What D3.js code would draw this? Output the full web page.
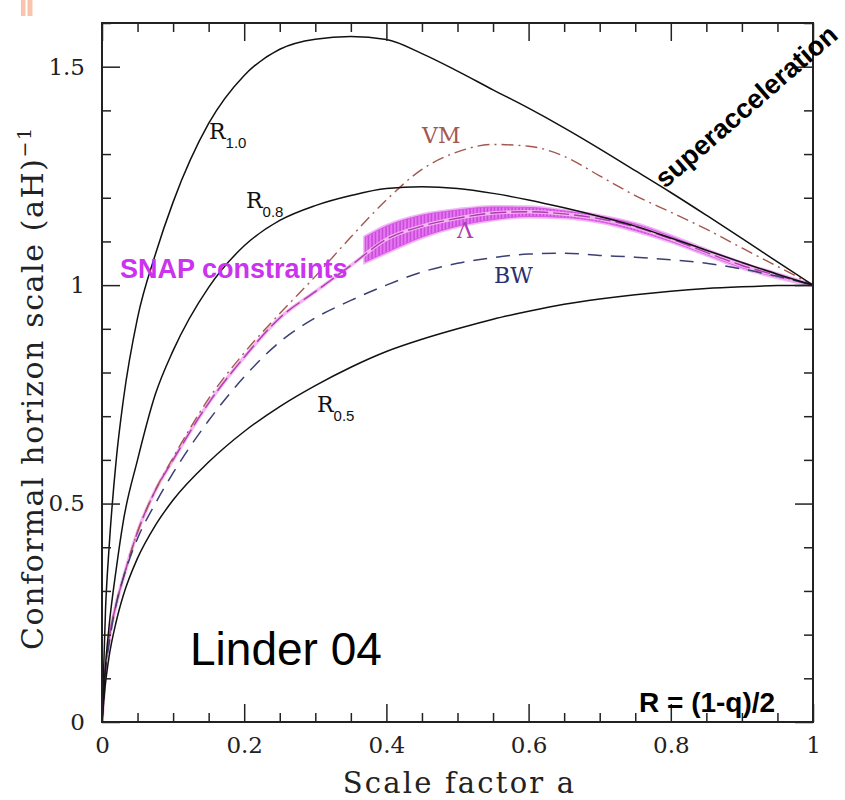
<!DOCTYPE html>
<html>
<head>
<meta charset="utf-8">
<script src="https://cdn.jsdelivr.net/npm/d3@7"></script>
<style>
  body { margin: 0; background: #fff; }
  svg { display: block; }
</style>
</head>
<body>
<script>
const width = 845;
const height = 800;

// scale factor grid shared by all curves
const aGrid = [0, 0.005, 0.01, 0.02, 0.03, 0.05, 0.075, 0.1, 0.15, 0.2, 0.25, 0.3, 0.35,
  0.4, 0.45, 0.5, 0.55, 0.6, 0.65, 0.7, 0.75, 0.8, 0.85, 0.9, 0.95, 1.0];

const r10 = [0, 0.26, 0.40, 0.60, 0.737, 0.925, 1.07, 1.19, 1.37, 1.48, 1.54, 1.563, 1.569,
  1.562, 1.53, 1.49, 1.447, 1.405, 1.36, 1.312, 1.262, 1.212, 1.16, 1.107, 1.053, 1.0];
const r08 = [0, 0.13, 0.22, 0.35, 0.46, 0.6, 0.75, 0.85, 0.995, 1.09, 1.148, 1.182, 1.205,
  1.221, 1.225, 1.221, 1.21, 1.195, 1.177, 1.157, 1.135, 1.108, 1.08, 1.052, 1.025, 1.0];
const r05 = [0, 0.09, 0.15, 0.23, 0.29, 0.375, 0.45, 0.508, 0.595, 0.665, 0.722, 0.77, 0.812,
  0.848, 0.876, 0.9, 0.922, 0.94, 0.956, 0.968, 0.978, 0.986, 0.992, 0.996, 0.999, 1.0];
const bw = [0, 0.12, 0.18, 0.27, 0.33, 0.42, 0.5, 0.57, 0.69, 0.79, 0.87, 0.925, 0.965,
  1.0, 1.03, 1.05, 1.063, 1.071, 1.073, 1.068, 1.064, 1.058, 1.05, 1.037, 1.02, 1.0];
const vm = [0, 0.12, 0.19, 0.27, 0.33, 0.435, 0.53, 0.605, 0.74, 0.845, 0.935, 1.02, 1.11,
  1.195, 1.265, 1.305, 1.322, 1.318, 1.295, 1.25, 1.205, 1.167, 1.128, 1.085, 1.043, 1.0];
const lam = [0, 0.12, 0.19, 0.27, 0.33, 0.435, 0.53, 0.6, 0.73, 0.835, 0.925, 0.985, 1.045,
  1.105, 1.135, 1.153, 1.165, 1.168, 1.163, 1.152, 1.133, 1.106, 1.075, 1.045, 1.022, 1.0];

// SNAP constraint band on the Lambda model
const bandA = [0.37, 0.40, 0.45, 0.50, 0.55, 0.60, 0.65, 0.70, 0.75, 0.80, 0.85, 0.90, 0.95, 1.0];
const bandHi = [1.11, 1.135, 1.16, 1.172, 1.179, 1.178, 1.17, 1.158, 1.14, 1.112, 1.08, 1.05, 1.025, 1.0];
const bandLo = [1.053, 1.075, 1.11, 1.135, 1.15, 1.157, 1.155, 1.145, 1.125, 1.1, 1.07, 1.04, 1.018, 1.0];

const xMajor = [0, 0.2, 0.4, 0.6, 0.8, 1];
const yMajor = [0, 0.5, 1, 1.5];

const pLeft = 102, pRight = 813, pTop = 23, pBottom = 722;

const x = d3.scaleLinear().domain([0, 1]).range([pLeft, pRight]);
const y = d3.scaleLinear().domain([0, 1.6]).range([pBottom, pTop]);

const svg = d3.select("body").append("svg")
  .attr("width", width)
  .attr("height", height);

// little salmon mark at top left
svg.append("rect").attr("x", 21).attr("y", 0).attr("width", 4.5).attr("height", 16).attr("fill", "#f9c3ae");
svg.append("rect").attr("x", 27.5).attr("y", 0).attr("width", 5).attr("height", 16).attr("fill", "#f9c3ae");

const defs = svg.append("defs");
const pat = defs.append("pattern")
  .attr("id", "hatch")
  .attr("patternUnits", "userSpaceOnUse")
  .attr("width", 3.5).attr("height", 10);
pat.append("rect").attr("width", 3.5).attr("height", 10).attr("fill", "#e577f2");
pat.append("line").attr("x1", 1).attr("x2", 1).attr("y1", 0).attr("y2", 10)
  .attr("stroke", "#b82ac8").attr("stroke-width", 0.9);

defs.append("clipPath").attr("id", "plot")
  .append("rect").attr("x", pLeft).attr("y", pTop)
  .attr("width", pRight - pLeft).attr("height", pBottom - pTop);

const plot = svg.append("g").attr("clip-path", "url(#plot)");

// band
const band = bandA.map((a, i) => ({ a: a, lo: bandLo[i], hi: bandHi[i] }));
const area = d3.area()
  .x(d => x(d.a))
  .y0(d => y(d.lo))
  .y1(d => y(d.hi))
  .curve(d3.curveMonotoneX);
plot.append("path").attr("d", area(band))
  .attr("fill", "none").attr("stroke", "#f3b4f8").attr("stroke-width", 4);
plot.append("path").attr("d", area(band))
  .attr("fill", "url(#hatch)").attr("stroke", "#d050e0").attr("stroke-width", 0.8);

const line = d3.line()
  .x(d => x(d[0]))
  .y(d => y(d[1]))
  .curve(d3.curveMonotoneX);

function pts(vals) {
  return aGrid.map((a, i) => [a, vals[i]]);
}

// Lambda line with pink glow
plot.append("path").attr("d", line(pts(lam)))
  .attr("fill", "none").attr("stroke", "#f4b6f0").attr("stroke-width", 3.5);
plot.append("path").attr("d", line(pts(lam)))
  .attr("fill", "none").attr("stroke", "#b03cb4").attr("stroke-width", 1.4)
  .attr("stroke-dasharray", "16,5");

plot.append("path").attr("d", line(pts(vm)))
  .attr("fill", "none").attr("stroke", "#a4574f").attr("stroke-width", 1.4)
  .attr("stroke-dasharray", "12,5,2,5");

plot.append("path").attr("d", line(pts(bw)))
  .attr("fill", "none").attr("stroke", "#3b3f72").attr("stroke-width", 1.5)
  .attr("stroke-dasharray", "14,9");

[r10, r08, r05].forEach(vals => {
  plot.append("path").attr("d", line(pts(vals)))
    .attr("fill", "none").attr("stroke", "#111").attr("stroke-width", 1.5);
});

// axes, ticks pointing inward on all four sides
function styleAxis(g) {
  g.select(".domain").remove();
  g.selectAll(".tick line").attr("stroke", "#222").attr("stroke-width", 1.5);
  g.selectAll("text")
    .attr("font-family", "DejaVu Serif")
    .attr("font-size", 23)
    .attr("fill", "#222");
}

const xMinor = d3.range(0, 1.0001, 0.05).filter(v => Math.abs(v * 5 - Math.round(v * 5)) > 1e-6);
const yMinor = d3.range(0, 1.6001, 0.1).filter(v => Math.abs(v * 2 - Math.round(v * 2)) > 1e-6);

svg.append("g").attr("transform", `translate(0,${pBottom})`)
  .call(d3.axisBottom(x).tickValues(xMajor).tickSize(-18).tickPadding(15)
    .tickFormat(d => String(d)))
  .call(styleAxis);
svg.append("g").attr("transform", `translate(0,${pBottom})`)
  .call(d3.axisBottom(x).tickValues(xMinor).tickSize(-9).tickFormat(""))
  .call(styleAxis);
svg.append("g").attr("transform", `translate(0,${pTop})`)
  .call(d3.axisTop(x).tickValues(xMajor).tickSize(-18).tickFormat(""))
  .call(styleAxis);
svg.append("g").attr("transform", `translate(0,${pTop})`)
  .call(d3.axisTop(x).tickValues(xMinor).tickSize(-9).tickFormat(""))
  .call(styleAxis);

svg.append("g").attr("transform", `translate(${pLeft},0)`)
  .call(d3.axisLeft(y).tickValues(yMajor).tickSize(-18).tickPadding(17)
    .tickFormat(d => String(d)))
  .call(styleAxis);
svg.append("g").attr("transform", `translate(${pLeft},0)`)
  .call(d3.axisLeft(y).tickValues(yMinor).tickSize(-9).tickFormat(""))
  .call(styleAxis);
svg.append("g").attr("transform", `translate(${pRight},0)`)
  .call(d3.axisRight(y).tickValues(yMajor).tickSize(-18).tickFormat(""))
  .call(styleAxis);
svg.append("g").attr("transform", `translate(${pRight},0)`)
  .call(d3.axisRight(y).tickValues(yMinor).tickSize(-9).tickFormat(""))
  .call(styleAxis);

svg.append("rect")
  .attr("x", pLeft).attr("y", pTop)
  .attr("width", pRight - pLeft).attr("height", pBottom - pTop)
  .attr("fill", "none").attr("stroke", "#222").attr("stroke-width", 2);

// axis titles
svg.append("text")
  .attr("x", (pLeft + pRight) / 2 + 2).attr("y", 793)
  .attr("text-anchor", "middle")
  .attr("font-family", "DejaVu Serif").attr("font-size", 29)
  .attr("letter-spacing", 2.2)
  .attr("fill", "#222")
  .text("Scale factor a");

const yt = svg.append("text")
  .attr("transform", "translate(43,650) rotate(-90)")
  .attr("font-family", "DejaVu Serif").attr("font-size", 30)
  .attr("letter-spacing", 1.6)
  .attr("fill", "#222");
yt.append("tspan").text("Conformal horizon scale (aH)");
yt.append("tspan").attr("dy", -12).attr("font-size", 19).text("\u22121");

// curve labels
function subLabel(px, py, main, sub, color) {
  const t = svg.append("text")
    .attr("x", px).attr("y", py)
    .attr("font-family", "DejaVu Serif").attr("font-size", 22)
    .attr("fill", color);
  t.append("tspan").text(main);
  if (sub) t.append("tspan").attr("dy", 9).attr("font-size", 15)
    .attr("font-family", "Liberation Sans").text(sub);
}
subLabel(209, 139, "R", "1.0", "#111");
subLabel(246, 208, "R", "0.8", "#111");
subLabel(317, 412, "R", "0.5", "#111");
subLabel(422, 143, "VM", null, "#a4574f");
subLabel(494, 283, "BW", null, "#2a2f6e");
subLabel(457, 238, "\u039b", null, "#b03cb4");

svg.append("text")
  .attr("x", 120).attr("y", 278)
  .attr("font-family", "Liberation Sans").attr("font-weight", "bold")
  .attr("font-size", 27).attr("fill", "#cc33ee")
  .text("SNAP constraints");

svg.append("text")
  .attr("transform", "translate(665,189) rotate(-41)")
  .attr("font-family", "Liberation Sans").attr("font-weight", "bold")
  .attr("font-size", 27).attr("fill", "#000")
  .text("superacceleration");

svg.append("text")
  .attr("x", 190).attr("y", 665)
  .attr("font-family", "Liberation Sans")
  .attr("font-size", 46).attr("fill", "#000")
  .text("Linder 04");

svg.append("text")
  .attr("x", 639).attr("y", 712)
  .attr("font-family", "Liberation Sans").attr("font-weight", "bold")
  .attr("font-size", 28).attr("fill", "#000")
  .text("R = (1-q)/2");
</script>
</body>
</html>
